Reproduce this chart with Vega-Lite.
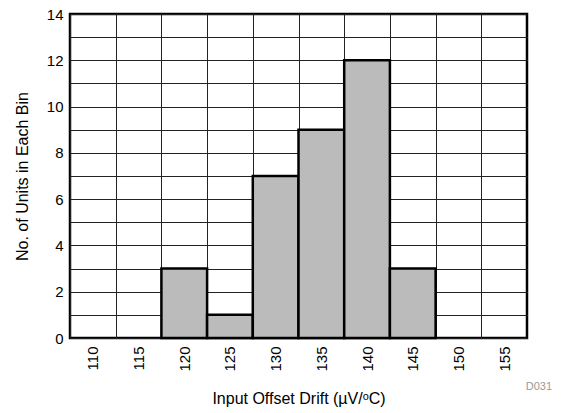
{
  "$schema": "https://vega.github.io/schema/vega-lite/v6.json",
  "autosize": {"type": "none"},
  "width": 457,
  "height": 324,
  "padding": {"left": 70, "top": 14, "right": 35, "bottom": 75},
  "background": "white",
  "config": {
    "font": "Liberation Sans",
    "view": {"stroke": "black", "strokeWidth": 2.5},
    "axis": {"domain": false, "ticks": false, "gridColor": "#222", "gridWidth": 1, "gridOpacity": 1, "labelFont": "Liberation Sans", "titleFont": "Liberation Sans", "labelFontSize": 15, "titleFontSize": 16, "titleFontWeight": "normal", "labelColor": "black", "titleColor": "black"}
  },
  "title": {"text": "D031", "orient": "bottom", "anchor": "end", "fontSize": 11, "fontWeight": "normal", "color": "#999", "font": "Liberation Sans", "offset": -25, "dx": 25},
  "data": {"values": [
    {"start": 117.5, "end": 122.5, "count": 3},
    {"start": 122.5, "end": 127.5, "count": 1},
    {"start": 127.5, "end": 132.5, "count": 7},
    {"start": 132.5, "end": 137.5, "count": 9},
    {"start": 137.5, "end": 142.5, "count": 12},
    {"start": 142.5, "end": 147.5, "count": 3}
  ]},
  "mark": {"type": "bar", "fill": "#bbbbbb", "stroke": "black", "strokeWidth": 2.5},
  "encoding": {
    "x": {"field": "start", "type": "quantitative",
      "scale": {"domain": [107.5, 157.5], "nice": false, "zero": false},
      "axis": {"values": [107.5, 112.5, 117.5, 122.5, 127.5, 132.5, 137.5, 142.5, 147.5, 152.5],
        "labelExpr": "datum.value < 155 ? format(datum.value + 2.5, 'd') : ''",
        "labelAngle": -90, "labelAlign": "right", "labelBaseline": "middle",
        "labelOffset": 22.85, "labelPadding": 8, "grid": true,
        "title": "Input Offset Drift (µV/ᵒC)", "titlePadding": 19}},
    "x2": {"field": "end"},
    "y": {"field": "count", "type": "quantitative",
      "scale": {"domain": [0, 14], "nice": false},
      "axis": {"values": [0, 1, 2, 3, 4, 5, 6, 7, 8, 9, 10, 11, 12, 13, 14],
        "labelExpr": "datum.value % 2 == 0 ? datum.label : ''",
        "labelPadding": 7, "grid": true,
        "title": "No. of Units in Each Bin", "titlePadding": 16}},
    "y2": {"datum": 0}
  }
}
